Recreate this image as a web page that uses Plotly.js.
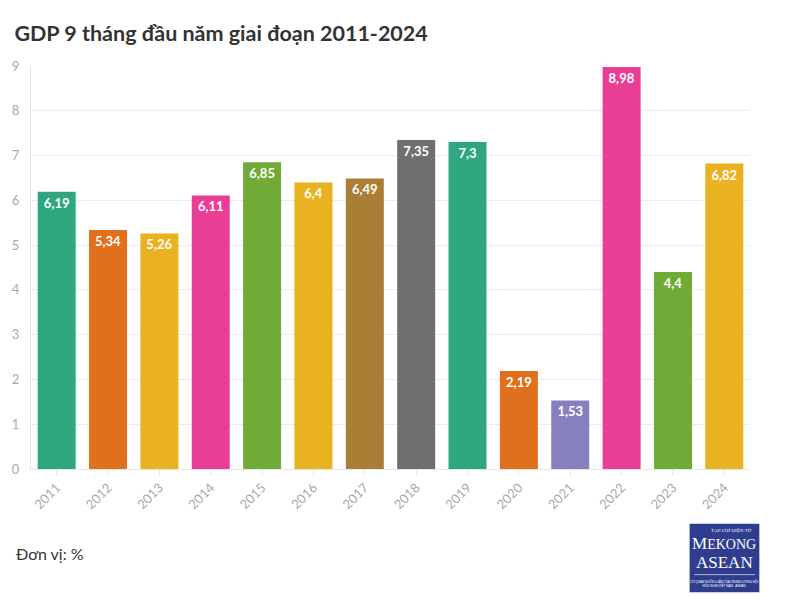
<!DOCTYPE html>
<html>
<head>
<meta charset="utf-8">
<script src="https://cdn.plot.ly/plotly-3.0.1.min.js"></script>
<style>html,body{margin:0;padding:0;background:#fff;}#chart{width:800px;height:614px;}</style>
</head>
<body>
<div id="chart"></div>
<script>
var years = ["2011","2012","2013","2014","2015","2016","2017","2018","2019","2020","2021","2022","2023","2024"];
var gdp = [6.19, 5.34, 5.26, 6.11, 6.85, 6.4, 6.49, 7.35, 7.3, 2.19, 1.53, 8.98, 4.4, 6.82];
var labels = ["6,19","5,34","5,26","6,11","6,85","6,4","6,49","7,35","7,3","2,19","1,53","8,98","4,4","6,82"];
var colors = ["#2ea67f","#e0701c","#e9b220","#e83e95","#70ab37","#e9b220","#aa7f35","#6f6f6f","#2ea67f","#e0701c","#8681bd","#e83e95","#70ab37","#e9b220"];
var yTicks = [0,1,2,3,4,5,6,7,8,9];

var trace = {
  type: "bar",
  x: years,
  y: gdp,
  text: labels,
  textposition: "inside",
  insidetextanchor: "end",
  textangle: 0,
  textfont: {family: "Lato, sans-serif", size: 13, color: "#ffffff", weight: "bold"},
  marker: {color: colors},
  hoverinfo: "x+y"
};

var lx = 0.9645;
var annotations = [
  {text: "Đơn vị: %", xref: "paper", yref: "paper", x: -0.024, y: -0.21, xanchor: "left", yanchor: "middle", showarrow: false, font: {family: "Lato, sans-serif", size: 16, color: "#333"}},
  {text: "TẠP CHÍ ĐIỆN TỬ", xref: "paper", yref: "paper", x: lx + 0.01, y: -0.152, xanchor: "center", yanchor: "middle", showarrow: false, font: {family: "Liberation Serif, serif", size: 5, color: "#ffffff"}},
  {text: "M<span style='font-size:14px'>EKONG</span>", xref: "paper", yref: "paper", x: lx, y: -0.184, xanchor: "center", yanchor: "middle", showarrow: false, font: {family: "Liberation Serif, serif", size: 17, color: "#ffffff"}},
  {text: "ASEAN", xref: "paper", yref: "paper", x: lx, y: -0.232, xanchor: "center", yanchor: "middle", showarrow: false, font: {family: "Liberation Serif, serif", size: 17, color: "#ffffff"}},
  {text: "CƠ QUAN NGÔN LUẬN CỦA TRUNG ƯƠNG HỘI<br>HỮU NGHỊ VIỆT NAM - ASEAN", xref: "paper", yref: "paper", x: lx, y: -0.283, xanchor: "center", yanchor: "middle", showarrow: false, font: {family: "Liberation Sans, sans-serif", size: 3, color: "#ffffff"}}
];

var layout = {
  width: 800, height: 614,
  margin: {l: 31, r: 50, t: 66, b: 145},
  paper_bgcolor: "#ffffff",
  plot_bgcolor: "#ffffff",
  title: {text: "<b>GDP 9 tháng đầu năm giai đoạn 2011-2024</b>", x: 0.018, xanchor: "left", y: 0.945, yanchor: "middle", font: {family: "Lato, sans-serif", size: 21.5, color: "#333333"}},
  bargap: 0.26,
  showlegend: false,
  xaxis: {
    type: "category",
    tickangle: -45,
    tickfont: {family: "Lato, sans-serif", size: 13, color: "#aaaaaa"},
    showgrid: false,
    showline: true, linecolor: "#e6e6e6", linewidth: 1,
    ticks: "outside", ticklen: 5, tickcolor: "#e6e6e6"
  },
  yaxis: {
    range: [0, 9],
    tickvals: yTicks,
    ticktext: yTicks.map(String),
    tickfont: {family: "Lato, sans-serif", size: 13, color: "#aaaaaa"},
    showgrid: true, gridcolor: "#ececec", gridwidth: 1,
    zeroline: false,
    showline: true, linecolor: "#e6e6e6",
    ticks: "", ticklabelstandoff: 8
  },
  shapes: [
    {type: "rect", xref: "paper", yref: "paper", x0: 0.916, x1: 1.013, y0: -0.306, y1: -0.136, fillcolor: "#2f3d8e", line: {width: 0}},
    {type: "line", xref: "paper", yref: "paper", x0: 0.922, x1: 1.007, y0: -0.262, y1: -0.262, line: {color: "#ffffff", width: 0.6}}
  ],
  annotations: annotations
};

Plotly.newPlot("chart", [trace], layout, {displayModeBar: false, staticPlot: true});
</script>
</body>
</html>
